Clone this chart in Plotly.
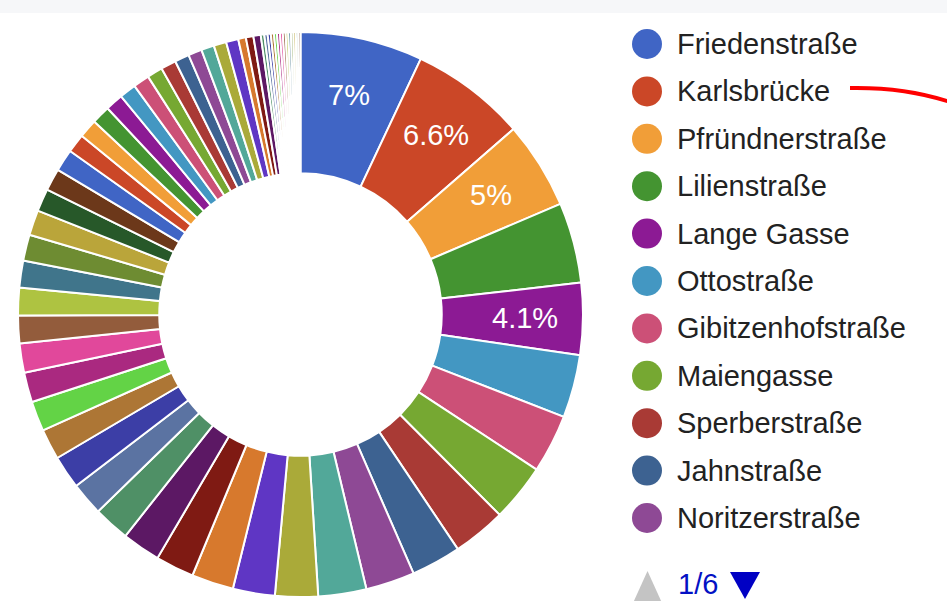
import math
import plotly.graph_objects as go

# ---- data ----
known_names = ["Friedenstraße", "Karlsbrücke", "Pfründnerstraße", "Lilienstraße",
               "Lange Gasse", "Ottostraße", "Gibitzenhofstraße", "Maiengasse",
               "Sperberstraße", "Jahnstraße", "Noritzerstraße"]
values = [7.0, 6.6, 5.0, 4.6, 4.1, 3.6, 3.35, 3.3, 3.05, 2.85, 2.8,
          2.75, 2.45, 2.4, 2.4, 2.2, 2.2,
          2.07, 1.9, 1.9, 1.75, 1.72, 1.70, 1.68,
          1.58, 1.57, 1.54, 1.49, 1.44, 1.30, 1.27,
          1.26, 1.08, 1.07, 1.06, 1.02, 0.95, 0.93,
          0.89, 0.87, 0.83, 0.78, 0.74, 0.72, 0.70,
          0.44, 0.43, 0.42,
          0.20, 0.19, 0.18, 0.18, 0.17, 0.17, 0.16, 0.16, 0.15, 0.15, 0.14, 0.14, 0.13, 0.13]
labels = known_names + [f"#{i + 1}" for i in range(len(known_names), len(values))]
labelled_slices = [0, 1, 2, 4]
page_text = "1/6"

palette = ["#3366cc", "#dc3912", "#ff9900", "#109618", "#990099", "#0099c6", "#dd4477",
           "#66aa00", "#b82e2e", "#316395", "#994499", "#22aa99", "#aaaa11", "#6633cc",
           "#e67300", "#8b0707", "#651067", "#329262", "#5574a6", "#3b3eac", "#b77322",
           "#16d620", "#b91383", "#f4359e", "#9c5935", "#a9c413", "#2a778d", "#668d1c",
           "#bea413", "#0c5922", "#743411"]


def screen_tone(hex_color):
    """Re-encode an sRGB colour the way the reference screenshot shows it (Display-P3 values)."""
    c = [int(hex_color[i:i + 2], 16) / 255 for i in (1, 3, 5)]
    lin = [x / 12.92 if x <= 0.04045 else ((x + 0.055) / 1.055) ** 2.4 for x in c]
    m = [[0.8225, 0.1774, 0.0000], [0.0332, 0.9669, 0.0000], [0.0171, 0.0724, 0.9108]]
    out = []
    for row in m:
        v = max(0.0, min(1.0, sum(a * b for a, b in zip(row, lin))))
        v = 12.92 * v if v <= 0.0031308 else 1.055 * v ** (1 / 2.4) - 0.055
        out.append(round(v * 255))
    return "#%02x%02x%02x" % tuple(out)


colors = [screen_tone(palette[i % len(palette)]) for i in range(len(values))]

W, H = 947, 601
FONT = "Liberation Sans, Arial, sans-serif"
PIE_X = [17 / W, 584 / W]
PIE_Y = [4 / H, 569 / H]

fig = go.Figure()
fig.add_trace(go.Pie(
    labels=labels, values=values, hole=0.5, sort=False, direction="clockwise", rotation=0,
    marker=dict(colors=colors, line=dict(color="white", width=2)),
    textinfo="none",
    domain=dict(x=PIE_X, y=PIE_Y),
    showlegend=False, hoverinfo="label+percent",
))

# ---- percentage labels on the large slices (placed from the slice angles) ----
cx = (PIE_X[0] + PIE_X[1]) / 2 * W
cy = H - (PIE_Y[0] + PIE_Y[1]) / 2 * H
radius = min((PIE_X[1] - PIE_X[0]) * W, (PIE_Y[1] - PIE_Y[0]) * H) / 2
total = sum(values)
annotations = []
cum = 0.0
for i, v in enumerate(values):
    if i in labelled_slices:
        mid = (cum + v / 2) / total * 2 * math.pi
        r = 0.795 * radius
        pct = v / total * 100
        annotations.append(dict(x=cx + r * math.sin(mid), y=cy - r * math.cos(mid),
                                xref="x", yref="y", text=f"{pct:.2g}%", showarrow=False,
                                xanchor="center", yanchor="middle",
                                font=dict(family=FONT, size=29, color="white")))
    cum += v

# ---- custom legend (first page) ----
row0, step = 44, 47.4
ys = [row0 + i * step for i in range(len(known_names))]
fig.add_trace(go.Scatter(
    x=[647] * len(known_names), y=ys, mode="markers",
    marker=dict(size=30, color=colors[:len(known_names)], line=dict(width=0)),
    hoverinfo="skip", showlegend=False, xaxis="x", yaxis="y",
))
for name, y in zip(known_names, ys):
    annotations.append(dict(x=675, y=y, xref="x", yref="y", text=name, showarrow=False,
                            xanchor="left", yanchor="middle",
                            font=dict(family=FONT, size=29, color="#222222")))
annotations.append(dict(x=676, y=584, xref="x", yref="y", text=page_text, showarrow=False,
                        xanchor="left", yanchor="middle",
                        font=dict(family=FONT, size=29, color=screen_tone("#0011cc"))))

shapes = [
    dict(type="rect", xref="x", yref="y", x0=0, x1=W, y0=0, y1=13,
         fillcolor="#f6f7f9", line=dict(width=0), layer="below"),
    # pager arrows
    dict(type="path", xref="x", yref="y", path="M 633 603 L 662 603 L 647.5 571 Z",
         fillcolor="#c4c4c4", line=dict(width=0)),
    dict(type="path", xref="x", yref="y", path="M 730 572 L 760 572 L 745 599 Z",
         fillcolor=screen_tone("#0000cc"), line=dict(width=0)),
    # red hand-drawn pointer
    dict(type="path", xref="x", yref="y", path="M 850 88 Q 905 87 950 102",
         line=dict(color="#ff0000", width=4)),
]

fig.update_layout(
    width=W, height=H, margin=dict(l=0, r=0, t=0, b=0),
    paper_bgcolor="white", plot_bgcolor="rgba(0,0,0,0)",
    xaxis=dict(range=[0, W], visible=False, fixedrange=True, domain=[0, 1]),
    yaxis=dict(range=[H, 0], visible=False, fixedrange=True, domain=[0, 1]),
    annotations=annotations, shapes=shapes, showlegend=False,
)

fig.write_html("out.html", config={"displayModeBar": False},
               post_script="document.body.style.margin='0';document.body.style.overflow='hidden';")
